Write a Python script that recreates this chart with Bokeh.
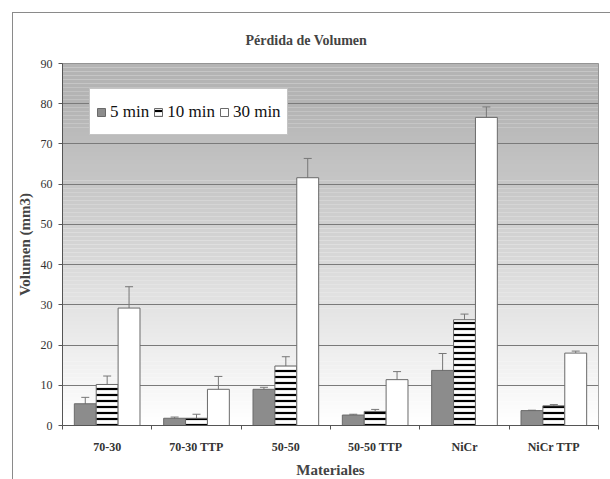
from bokeh.plotting import figure
from bokeh.models import (Range1d, FixedTicker, ColumnDataSource, Whisker, TeeHead,
                          Legend, LegendItem)
from bokeh.embed import file_html
from bokeh.resources import INLINE

categories = ["70-30", "70-30 TTP", "50-50", "50-50 TTP", "NiCr", "NiCr TTP"]
series = ["5 min", "10 min", "30 min"]
v5 = [5.4, 1.8, 9.0, 2.6, 13.7, 3.7]
e5 = [1.6, 0.3, 0.5, 0.2, 4.2, 0.1]
v10 = [10.2, 1.8, 14.8, 3.5, 26.3, 4.9]
e10 = [2.1, 1.0, 2.3, 0.5, 1.4, 0.3]
v30 = [29.2, 9.0, 61.6, 11.4, 76.6, 18.0]
e30 = [5.3, 3.2, 4.8, 2.0, 2.6, 0.5]
y_ticks = [0, 10, 20, 30, 40, 50, 60, 70, 80, 90]

SERIF = "Liberation Serif"

p = figure(width=598, height=467, x_range=Range1d(0, len(categories)),
           y_range=Range1d(0, 90), output_backend="svg", toolbar_location=None,
           min_border_left=48, min_border_right=13, min_border_top=50,
           min_border_bottom=54)
p.margin = (12, 0, 0, 12)
p.styles = {"border-top": "1px solid #8a8a8a", "border-left": "1px solid #8a8a8a"}

# background gradient (decoration)
bb, bt, bc = [], [], []
for k in range(90):
    mid = k + 0.5
    if mid >= 80:
        g = 180
    else:
        g = int(round(255 - (255 - 180) * (mid / 80.0)))
    bb.append(k)
    bt.append(k + 1)
    bc.append("#%02x%02x%02x" % (g, g, g))
bg = p.quad(left=0, right=len(categories), bottom=bb, top=bt, fill_color=bc,
            line_color=None)
bg.level = "image"

w = 0.245
centers = [i + 0.5 for i in range(len(categories))]

def src(vals, errs, off):
    return ColumnDataSource(dict(
        x=[c + off for c in centers], top=vals,
        upper=[v + e for v, e in zip(vals, errs)],
        lower=[v - e for v, e in zip(vals, errs)]))

s5 = src(v5, e5, -w)
s10 = src(v10, e10, 0)
s30 = src(v30, e30, w)

r5 = p.vbar(x="x", top="top", width=w, source=s5, fill_color="#8c8c8c",
            line_color="#6a6a6a", line_width=1)
r10 = p.vbar(x="x", top="top", width=w, source=s10, fill_color="white",
             line_color="#6a6a6a", line_width=1, hatch_pattern="horizontal_line",
             hatch_color="black", hatch_scale=6, hatch_weight=2.2)
r30 = p.vbar(x="x", top="top", width=w, source=s30, fill_color="white",
             line_color="#6a6a6a", line_width=1)

for s in (s5, s10, s30):
    p.add_layout(Whisker(source=s, base="x", upper="upper", lower="lower",
                         line_color="#777777", line_width=1,
                         upper_head=TeeHead(size=8, line_color="#777777"),
                         lower_head=TeeHead(size=8, line_color="#777777")))

# grid / frame
p.xgrid.visible = False
p.ygrid.ticker = FixedTicker(ticks=y_ticks)
p.ygrid.grid_line_color = "#7a7a7a"
p.ygrid.grid_line_width = 1
p.outline_line_color = "#8a8a8a"
p.background_fill_color = "white"

# y axis
p.yaxis.ticker = FixedTicker(ticks=y_ticks)
p.yaxis.axis_line_color = "#555555"
p.yaxis.major_tick_line_color = "#555555"
p.yaxis.major_tick_in = 0
p.yaxis.major_tick_out = 4
p.yaxis.minor_tick_line_color = None
p.yaxis.major_label_text_font = SERIF
p.yaxis.major_label_text_font_size = "12px"
p.yaxis.major_label_text_color = "#333333"
p.yaxis.major_label_standoff = 6
p.yaxis.axis_label = "Volumen (mm3)"
p.yaxis.axis_label_text_font = SERIF
p.yaxis.axis_label_text_font_style = "bold"
p.yaxis.axis_label_text_font_size = "15px"
p.yaxis.axis_label_standoff = 5

# x axis: labels at centers, ticks at boundaries
p.xaxis.ticker = FixedTicker(ticks=centers, minor_ticks=list(range(len(categories) + 1)))
p.xaxis.major_label_overrides = {c: cat for c, cat in zip(centers, categories)}
p.xaxis.axis_line_color = "#555555"
p.xaxis.major_tick_line_color = None
p.xaxis.major_tick_out = 0
p.xaxis.major_tick_in = 0
p.xaxis.minor_tick_line_color = "#555555"
p.xaxis.minor_tick_in = 0
p.xaxis.minor_tick_out = 4
p.xaxis.major_label_text_font = SERIF
p.xaxis.major_label_text_font_style = "bold"
p.xaxis.major_label_text_font_size = "12px"
p.xaxis.major_label_text_color = "#333333"
p.xaxis.major_label_standoff = 10
p.xaxis.axis_label = "Materiales"
p.xaxis.axis_label_text_font = SERIF
p.xaxis.axis_label_text_font_style = "bold"
p.xaxis.axis_label_text_font_size = "15px"
p.xaxis.axis_label_standoff = 5

# title
p.title.text = "Pérdida de Volumen"
p.title.text_font = SERIF
p.title.text_font_style = "bold"
p.title.text_font_size = "14px"
p.title.align = "left"
p.title.offset = 183
p.title.standoff = 31

legend = Legend(items=[LegendItem(label=series[0], renderers=[r5]),
                       LegendItem(label=series[1], renderers=[r10]),
                       LegendItem(label=series[2], renderers=[r30])],
                orientation="horizontal", location=(27, 290),
                label_text_font=SERIF, label_text_font_size="17px",
                label_text_color="#111111", glyph_width=10, glyph_height=10,
                label_standoff=4, spacing=4, padding=6, label_height=33,
                border_line_color="#8a8a8a", border_line_width=1,
                background_fill_color="white", background_fill_alpha=1)
p.add_layout(legend)

open("out.html", "w").write(file_html(p, INLINE))
